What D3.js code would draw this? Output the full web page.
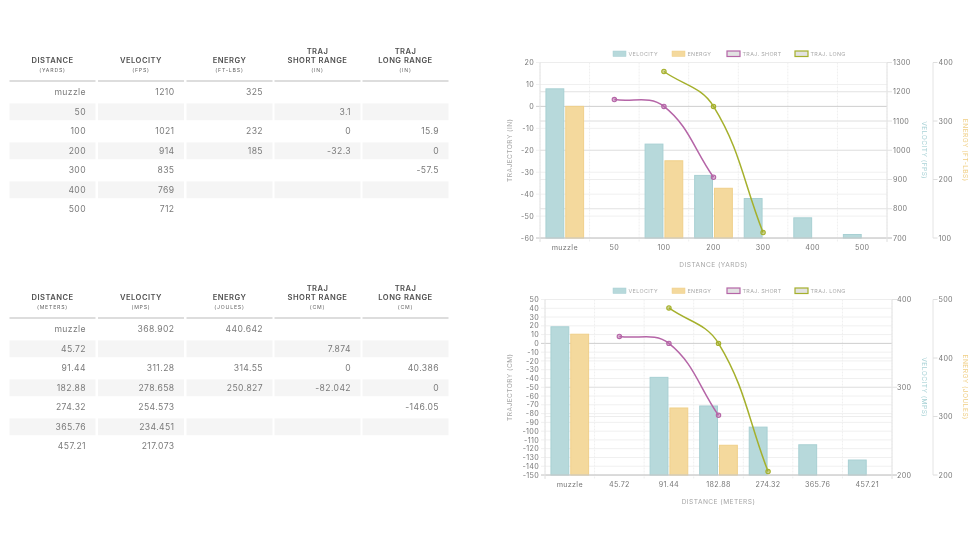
<!DOCTYPE html>
<html>
<head>
<meta charset="utf-8">
<script src="https://cdn.jsdelivr.net/npm/d3@7"></script>
<style>
  html, body { margin: 0; padding: 0; background: #fff; }
  svg { display: block; filter: blur(0.3px); }
  text { font-family: Inter, "Open Sans", sans-serif; }
</style>
</head>
<body>
<div id="page"></div>
<script>
var columnTitles = [['DISTANCE'], ['VELOCITY'], ['ENERGY'], ['TRAJ', 'SHORT RANGE'], ['TRAJ', 'LONG RANGE']];

var yardCategories = ['muzzle', '50', '100', '200', '300', '400', '500'];
var yardUnits = ['(YARDS)', '(FPS)', '(FT-LBS)', '(IN)', '(IN)'];
var yardVelocity = [1210, null, 1021, 914, 835, 769, 712];
var yardEnergy = [325, null, 232, 185, null, null, null];
var yardShort = [null, 3.1, 0, -32.3, null, null, null];
var yardLong = [null, null, 15.9, 0, -57.5, null, null];

var meterCategories = ['muzzle', '45.72', '91.44', '182.88', '274.32', '365.76', '457.21'];
var meterUnits = ['(METERS)', '(MPS)', '(JOULES)', '(CM)', '(CM)'];
var meterVelocity = [368.902, null, 311.28, 278.658, 254.573, 234.451, 217.073];
var meterEnergy = [440.642, null, 314.55, 250.827, null, null, null];
var meterShort = [null, 7.874, 0, -82.042, null, null, null];
var meterLong = [null, null, 40.386, 0, -146.05, null, null];

var legendLabels = ['VELOCITY', 'ENERGY', 'TRAJ. SHORT', 'TRAJ. LONG'];

var colors = {
  velocity: '#b7d9db', velocityEdge: '#a8d0d3', velocityTitle: '#a9d2d6',
  energy: '#f4d99d', energyEdge: '#f0d08a', energyTitle: '#f0cf85',
  short: '#b565a7', long: '#a5b02c',
  tick: '#777', title: '#a5a5a5', grid: '#f0f0f0', gridDark: '#e2e2e2'
};

var svg = d3.select('#page').append('svg').attr('width', 978).attr('height', 550);

function drawTable(top, categories, units, velocity, energy, shortRange, longRange) {
  var columnLeft = [9.5, 98, 186.5, 274.5, 362.5];
  var columnWidth = 86;
  var rowStep = 19.5;
  var g = svg.append('g').attr('transform', 'translate(0,' + top + ')');
  var cols = [categories, velocity, energy, shortRange, longRange];

  columnTitles.forEach(function(lines, c) {
    var cx = columnLeft[c] + columnWidth / 2;
    lines.forEach(function(line, i) {
      g.append('text')
        .attr('x', cx).attr('y', 22.5 - (lines.length - 1 - i) * 9)
        .attr('text-anchor', 'middle')
        .attr('font-size', 7.6).attr('font-weight', 600)
        .attr('letter-spacing', 0.45).attr('fill', '#505050')
        .text(line);
    });
    g.append('text')
      .attr('x', cx).attr('y', 32)
      .attr('text-anchor', 'middle')
      .attr('font-size', 5.2).attr('letter-spacing', 0.8).attr('fill', '#666')
      .text(units[c]);
    g.append('rect')
      .attr('x', columnLeft[c]).attr('y', 40).attr('width', columnWidth).attr('height', 2)
      .attr('fill', '#dddddd');
  });

  categories.forEach(function(d, r) {
    var cy = 52.3 + r * rowStep;
    cols.forEach(function(col, c) {
      if (r % 2 === 1) {
        g.append('rect')
          .attr('x', columnLeft[c]).attr('y', cy - 8.4)
          .attr('width', columnWidth).attr('height', 16.8)
          .attr('fill', '#f5f5f5');
      }
      if (col[r] !== null) {
        g.append('text')
          .attr('x', columnLeft[c] + columnWidth - 9.5).attr('y', cy + 3)
          .attr('text-anchor', 'end')
          .attr('font-size', 8.6).attr('letter-spacing', 0.4).attr('fill', '#7a7a7a')
          .text(col[r]);
      }
    });
  });
}

// same control points as a tension 0.4 bezier between the points of a series
function splinePath(points) {
  var t = 0.4;
  var path = d3.path();
  var cps = points.map(function(p, i) {
    var prev = points[i - 1] || p, next = points[i + 1] || p;
    var d01 = Math.hypot(p[0] - prev[0], p[1] - prev[1]);
    var d12 = Math.hypot(next[0] - p[0], next[1] - p[1]);
    var fa = d01 + d12 ? t * d01 / (d01 + d12) : 0;
    var fb = d01 + d12 ? t * d12 / (d01 + d12) : 0;
    return {
      before: [p[0] - fa * (next[0] - prev[0]), p[1] - fa * (next[1] - prev[1])],
      after: [p[0] + fb * (next[0] - prev[0]), p[1] + fb * (next[1] - prev[1])]
    };
  });
  path.moveTo(points[0][0], points[0][1]);
  for (var i = 1; i < points.length; i++) {
    path.bezierCurveTo(cps[i - 1].after[0], cps[i - 1].after[1], cps[i].before[0], cps[i].before[1], points[i][0], points[i][1]);
  }
  return path.toString();
}

function drawChart(o) {
  var left = o.left, right = o.left + 347, top = o.top, bottom = o.top + 175.5;
  var g = svg.append('g');

  var x = d3.scaleBand().domain(o.categories).range([left, right]);
  var y = d3.scaleLinear().domain(o.trajDomain).range([bottom, top]);
  var yVel = d3.scaleLinear().domain(o.velDomain).range([bottom, top]);
  var yEn = d3.scaleLinear().domain(o.enDomain).range([bottom, top]);
  var groupWidth = x.bandwidth() * 0.8;
  var barWidth = groupWidth / 2 * 0.9;

  // legend
  var legendX = [613, 672, 727, 795];
  var legendFill = [colors.velocity, colors.energy, '#e2e2e2', '#e2e2e2'];
  var legendEdge = [colors.velocityEdge, colors.energyEdge, colors.short, colors.long];
  legendLabels.forEach(function(label, i) {
    g.append('rect')
      .attr('x', legendX[i]).attr('y', top - 11.5).attr('width', 13).attr('height', 5.5)
      .attr('fill', legendFill[i]).attr('stroke', legendEdge[i]).attr('stroke-width', i > 1 ? 1.2 : 0.5);
    g.append('text')
      .attr('x', legendX[i] + 15.5).attr('y', top - 6.5)
      .attr('font-size', 5.4).attr('letter-spacing', 0.35).attr('fill', '#aaa')
      .text(label);
  });

  // grid
  g.selectAll('.grid-x').data(d3.range(o.categories.length + 1)).enter().append('line')
    .attr('x1', function(d) { return left + d * x.bandwidth(); })
    .attr('x2', function(d) { return left + d * x.bandwidth(); })
    .attr('y1', top).attr('y2', bottom + 4)
    .attr('stroke', '#efefef').attr('stroke-dasharray', '2,1');
  g.selectAll('.grid-traj').data(d3.range(o.trajDomain[0], o.trajDomain[1] + 1, 10)).enter().append('line')
    .attr('x1', left - 4).attr('x2', right)
    .attr('y1', function(d) { return y(d); }).attr('y2', function(d) { return y(d); })
    .attr('stroke', function(d) { return d === 0 ? '#cfcfcf' : colors.grid; });
  g.selectAll('.grid-vel').data(yVel.ticks(o.velCount)).enter().append('line')
    .attr('x1', left).attr('x2', right + 5)
    .attr('y1', function(d) { return yVel(d); }).attr('y2', function(d) { return yVel(d); })
    .attr('stroke', colors.gridDark);
  g.selectAll('.grid-en').data(yEn.ticks(o.enCount)).enter().append('line')
    .attr('x1', left).attr('x2', right)
    .attr('y1', function(d) { return yEn(d); }).attr('y2', function(d) { return yEn(d); })
    .attr('stroke', '#ededed');

  // bars
  var row = o.categories.map(function(c, i) { return { c: c, v: o.velocity[i], e: o.energy[i] }; });
  g.selectAll('.bar-vel').data(row.filter(function(d) { return d.v !== null; })).enter().append('rect')
    .attr('x', function(d) { return x(d.c) + x.bandwidth() / 2 - groupWidth / 2 + groupWidth * 0.025; })
    .attr('y', function(d) { return yVel(d.v); })
    .attr('width', barWidth)
    .attr('height', function(d) { return bottom - yVel(d.v); })
    .attr('fill', colors.velocity).attr('stroke', colors.velocityEdge);
  g.selectAll('.bar-en').data(row.filter(function(d) { return d.e !== null; })).enter().append('rect')
    .attr('x', function(d) { return x(d.c) + x.bandwidth() / 2 + groupWidth * 0.025; })
    .attr('y', function(d) { return yEn(d.e); })
    .attr('width', barWidth)
    .attr('height', function(d) { return bottom - yEn(d.e); })
    .attr('fill', colors.energy).attr('stroke', colors.energyEdge);

  // axis lines
  g.append('line').attr('x1', left - 4).attr('x2', right + 5).attr('y1', bottom).attr('y2', bottom).attr('stroke', '#c8c8c8');
  g.append('line').attr('x1', right).attr('x2', right).attr('y1', top).attr('y2', bottom + 4).attr('stroke', '#e4e4e4');
  g.append('line').attr('x1', left).attr('x2', left).attr('y1', top).attr('y2', bottom + 4).attr('stroke', '#e4e4e4');
  var enAxisX = 933;
  g.append('line').attr('x1', enAxisX).attr('x2', enAxisX).attr('y1', top).attr('y2', bottom).attr('stroke', '#e4e4e4');
  g.selectAll('.tick-en').data(yEn.ticks(o.enCount)).enter().append('line')
    .attr('x1', enAxisX).attr('x2', enAxisX + 4.5)
    .attr('y1', function(d) { return yEn(d); }).attr('y2', function(d) { return yEn(d); })
    .attr('stroke', '#dedede');

  // lines
  [[o.shortRange, colors.short], [o.longRange, colors.long]].forEach(function(s) {
    var pts = [];
    s[0].forEach(function(v, i) {
      if (v !== null) pts.push([x(o.categories[i]) + x.bandwidth() / 2, y(v)]);
    });
    g.append('path').attr('d', splinePath(pts)).attr('fill', 'none').attr('stroke', s[1]).attr('stroke-width', 1.5);
    g.selectAll(null).data(pts).enter().append('circle')
      .attr('cx', function(d) { return d[0]; }).attr('cy', function(d) { return d[1]; })
      .attr('r', 2.2).attr('fill', d3.color(s[1]).copy({ opacity: 0.5 })).attr('stroke', s[1]).attr('stroke-width', 1.1);
  });

  // tick labels
  var tickText = function(sel) {
    return sel.attr('font-size', 7.2).attr('letter-spacing', 0.3).attr('fill', colors.tick);
  };
  tickText(g.selectAll('.lab-x').data(o.categories).enter().append('text'))
    .attr('x', function(d) { return x(d) + x.bandwidth() / 2; }).attr('y', bottom + 11.5)
    .attr('text-anchor', 'middle').text(function(d) { return d; });
  tickText(g.selectAll('.lab-traj').data(d3.range(o.trajDomain[0], o.trajDomain[1] + 1, o.trajStep)).enter().append('text'))
    .attr('x', left - 6).attr('y', function(d) { return y(d) + 2.6; })
    .attr('text-anchor', 'end').text(function(d) { return d; });
  tickText(g.selectAll('.lab-vel').data(yVel.ticks(o.velCount)).enter().append('text'))
    .attr('x', o.velLabelX).attr('y', function(d) { return yVel(d) + 2.6; }).text(function(d) { return d; });
  tickText(g.selectAll('.lab-en').data(yEn.ticks(o.enCount)).enter().append('text'))
    .attr('x', enAxisX + 5.5).attr('y', function(d) { return yEn(d) + 2.6; }).text(function(d) { return d; });

  // axis titles
  var midY = (top + bottom) / 2;
  var axisTitle = function(label, tx, ty, angle, fill) {
    g.append('text')
      .attr('transform', 'translate(' + tx + ',' + ty + ') rotate(' + angle + ')')
      .attr('text-anchor', 'middle').attr('font-size', 6.6).attr('letter-spacing', 0.45)
      .attr('fill', fill).text(label);
  };
  axisTitle(o.xTitle, (left + right) / 2, bottom + 28.5, 0, colors.title);
  axisTitle(o.trajTitle, 511.5, midY, -90, colors.title);
  axisTitle(o.velTitle, 921.5, midY, 90, colors.velocityTitle);
  axisTitle(o.enTitle, 962.5, midY, 90, colors.energyTitle);
}

drawTable(40, yardCategories, yardUnits, yardVelocity, yardEnergy, yardShort, yardLong);
drawTable(277, meterCategories, meterUnits, meterVelocity, meterEnergy, meterShort, meterLong);

drawChart({
  left: 540, top: 62.5, velLabelX: 893,
  categories: yardCategories, velocity: yardVelocity, energy: yardEnergy, shortRange: yardShort, longRange: yardLong,
  trajDomain: [-60, 20], trajStep: 10, velDomain: [700, 1300], velCount: 6, enDomain: [100, 400], enCount: 3,
  xTitle: 'DISTANCE (YARDS)', trajTitle: 'TRAJECTORY (IN)', velTitle: 'VELOCITY (FPS)', enTitle: 'ENERGY (FT-LBS)'
});
drawChart({
  left: 545, top: 299.5, velLabelX: 897,
  categories: meterCategories, velocity: meterVelocity, energy: meterEnergy, shortRange: meterShort, longRange: meterLong,
  trajDomain: [-150, 50], trajStep: 10, velDomain: [200, 400], velCount: 2, enDomain: [200, 500], enCount: 3,
  xTitle: 'DISTANCE (METERS)', trajTitle: 'TRAJECTORY (CM)', velTitle: 'VELOCITY (MPS)', enTitle: 'ENERGY (JOULES)'
});
</script>
</body>
</html>
